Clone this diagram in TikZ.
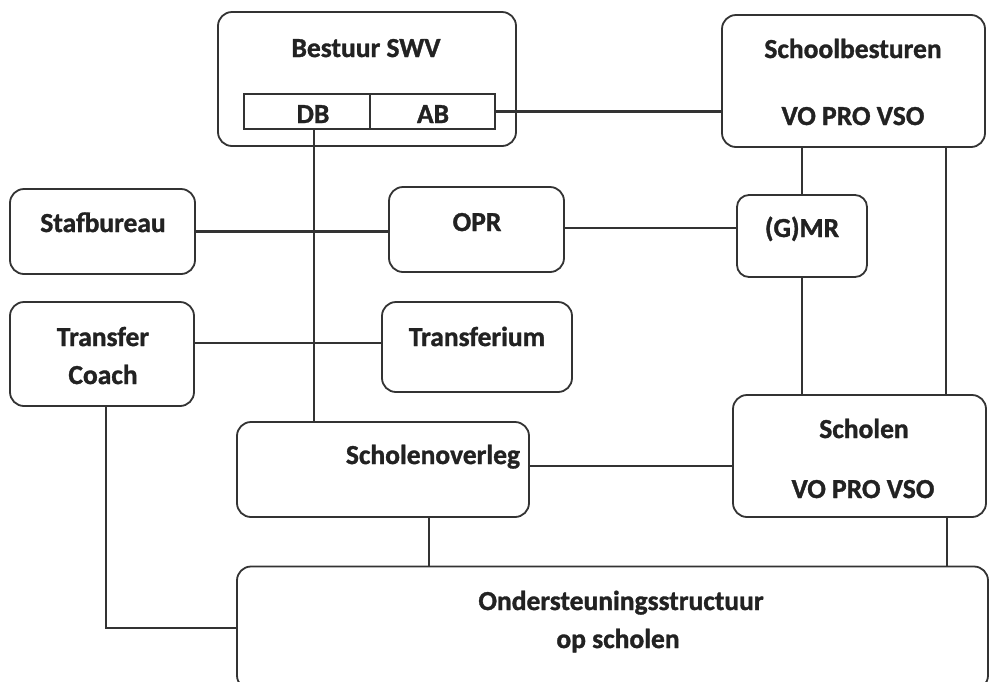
\documentclass[tikz,border=0pt]{standalone}
\usepackage{fontspec}
\setmainfont{Carlito}[BoldFeatures={FakeBold=1.2}]
\definecolor{linec}{HTML}{333333}
\definecolor{textc}{HTML}{222222}
\begin{document}
\begin{tikzpicture}[x=1pt,y=-1pt,
  box/.style={draw=linec, line width=1.8pt, rounded corners=14pt, inner sep=0pt, outer sep=0pt, fill=white},
  cell/.style={draw=linec, line width=1.3pt, inner sep=0pt, outer sep=0pt, fill=white},
  conn/.style={draw=linec, line width=2.8pt},
  lbl/.style={anchor=base, inner sep=0pt, text=textc, font=\fontsize{27.5}{33}\selectfont\bfseries}]
\useasboundingbox[fill=white] (0,0) rectangle (989,681);
\begin{scope}
\clip (0,0) rectangle (989,681);
% boxes
\node[box, minimum width=298pt, minimum height=134pt] (bestuur) at (367,79) {};
\node[cell, minimum width=126pt, minimum height=35pt] (db) at (307,111.5) {};
\node[cell, minimum width=125pt, minimum height=35pt] (ab) at (432.5,111.5) {};
\node[box, minimum width=263pt, minimum height=132pt] (schoolb) at (853.5,81) {};
\node[box, minimum width=185pt, minimum height=85pt] (staf) at (102.5,231.5) {};
\node[box, minimum width=175pt, minimum height=85pt] (opr) at (476.5,229.5) {};
\node[box, minimum width=130pt, minimum height=82pt, rounded corners=12pt] (gmr) at (802,236) {};
\node[box, minimum width=184pt, minimum height=104pt] (tcoach) at (102,354) {};
\node[box, minimum width=190pt, minimum height=90pt] (transferium) at (477,347) {};
\node[box, minimum width=292pt, minimum height=95pt] (overleg) at (383,469.5) {};
\node[box, minimum width=253pt, minimum height=122pt] (scholen) at (859.5,456) {};
\node[box, minimum width=751pt, minimum height=123pt] (ond) at (612.5,628) {};
% connectors
\draw[conn] ([xshift=7pt]db.south) -- ([xshift=7pt]db.south |- overleg.north);
\draw[conn] (ab.east) -- (ab.east -| schoolb.west);
\draw[conn] (staf.east) -- (staf.east -| opr.west);
\draw[conn] ([yshift=1.5pt]opr.east) -- ([yshift=1.5pt]opr.east -| gmr.west);
\draw[conn] ([yshift=11pt]tcoach.east) -- ([yshift=11pt]tcoach.east -| transferium.west);
\draw[conn] (gmr.north) -- (gmr.north |- schoolb.south);
\draw[conn] (gmr.south) -- (gmr.south |- scholen.north);
\draw[conn] ([xshift=92.5pt]schoolb.south) -- ([xshift=92.5pt]schoolb.south |- scholen.north);
\draw[conn] ([xshift=87.5pt]scholen.south) -- ([xshift=87.5pt]scholen.south |- ond.north);
\draw[conn] ([xshift=46pt]overleg.south) -- ([xshift=46pt]overleg.south |- ond.north);
\draw[conn] ([yshift=3.5pt]overleg.east) -- ([yshift=3.5pt]overleg.east -| scholen.west);
\draw[conn] ([xshift=4pt]tcoach.south) |- (ond.west);
% labels
\node[lbl] (tbestuur) at (366,57) {Bestuur SWV};
\node[lbl] (tdb) at (313,123) {DB};
\node[lbl] (tab) at (433,123) {AB};
\node[lbl] (tschoolb) at (853,58) {Schoolbesturen};
\node[lbl] (tvo1) at (853,125) {VO PRO VSO};
\node[lbl] (tstaf) at (103,232) {Stafbureau};
\node[lbl] (topr) at (477,231) {OPR};
\node[lbl] (tgmr) at (802,237) {(G)MR};
\node[lbl] (ttransfer) at (103,346) {Transfer};
\node[lbl] (tcoachl) at (103,384) {Coach};
\node[lbl] (ttransferium) at (477,346) {Transferium};
\node[lbl] (toverleg) at (433,464) {Scholenoverleg};
\node[lbl] (tscholen) at (864,438) {Scholen};
\node[lbl] (tvo2) at (863,498) {VO PRO VSO};
\node[lbl] (tond1) at (621,610) {Ondersteuningsstructuur};
\node[lbl] (tond2) at (618,648) {op scholen};
\end{scope}
\end{tikzpicture}
\end{document}
